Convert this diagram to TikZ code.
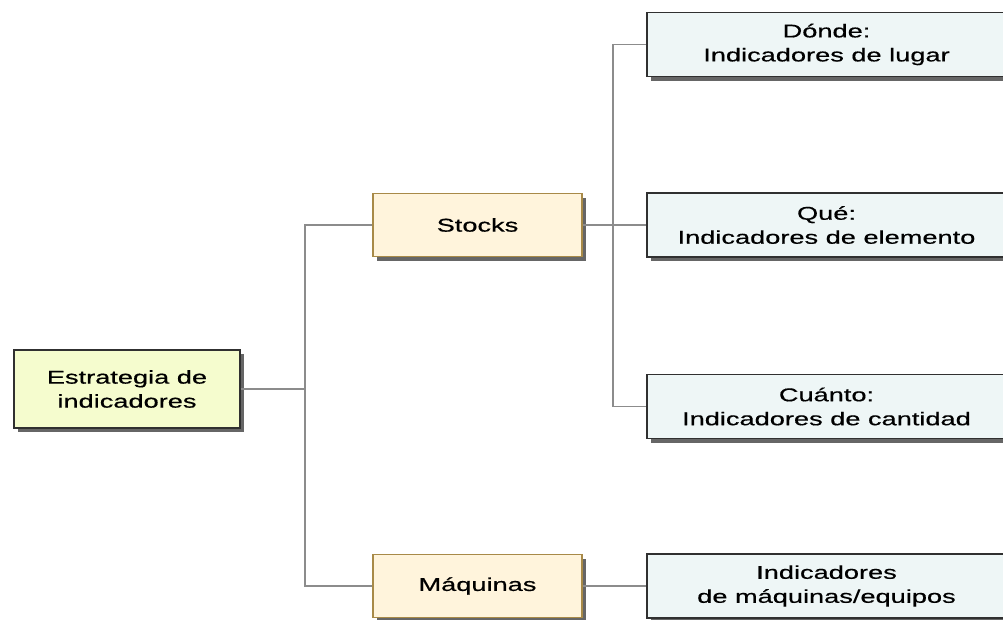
\documentclass[tikz,border=0pt]{standalone}
\usepackage{fontspec}
\newfontfamily\boxfont[FakeStretch=1.47, FakeBold=0.5]{Liberation Sans}
\usetikzlibrary{shadows}
\definecolor{rootfill}{HTML}{F5FCCE}
\definecolor{midfill}{HTML}{FFF4DC}
\definecolor{midline}{HTML}{A88A48}
\definecolor{leaffill}{HTML}{EEF6F6}
\definecolor{darkline}{HTML}{303030}
\definecolor{connline}{HTML}{8C8C8C}
\tikzset{
  boxbase/.style={rectangle, line width=1.6pt, align=center,
    font=\boxfont\fontsize{18.5}{24}\selectfont, inner sep=0pt,
    drop shadow={shadow xshift=4pt, shadow yshift=-4pt, fill=black!60, opacity=1}},
  rootbox/.style={boxbase, draw=darkline, fill=rootfill,
    minimum width=226pt, minimum height=78pt},
  midbox/.style={boxbase, draw=midline, fill=midfill,
    minimum width=209pt, minimum height=63pt},
  leafbox/.style={boxbase, draw=darkline, fill=leaffill,
    minimum width=359pt, minimum height=64pt},
  conn/.style={draw=connline, line width=1.3pt}
}
\begin{document}
\begin{tikzpicture}[x=1pt, y=-1pt]
  \useasboundingbox (0,0) rectangle (1003,619);
  \clip (0,0) rectangle (1003,619);
  \fill[white] (0,0) rectangle (1003,619);

  % junction points of the two trees
  \coordinate (j1) at (305,389);
  \coordinate (j2) at (613,225);

  % boxes
  \node[rootbox] (root) at (127,389) {Estrategia de\\indicadores};
  \node[midbox] (stocks) at (477.5,225) {Stocks};
  \node[midbox] (maq) at (477.5,586) {Máquinas};
  \node[leafbox] (donde) at (826.5,44.5) {Dónde:\\Indicadores de lugar};
  \node[leafbox] (que) at (826.5,225) {Qué:\\Indicadores de elemento};
  \node[leafbox] (cuanto) at (826.5,406.5) {Cuánto:\\Indicadores de cantidad};
  \node[leafbox] (imaq) at (826.5,586) {Indicadores\\de máquinas/equipos};

  % connectors
  \draw[conn] (root.east) -- (j1);
  \draw[conn] (stocks.west) -| (j1) |- (maq.west);
  \draw[conn] (stocks.east) -- (j2);
  \draw[conn] (donde.west) -| (j2) |- (cuanto.west);
  \draw[conn] (j2) -- (que.west);
  \draw[conn] (maq.east) -- (imaq.west);
\end{tikzpicture}
\end{document}
